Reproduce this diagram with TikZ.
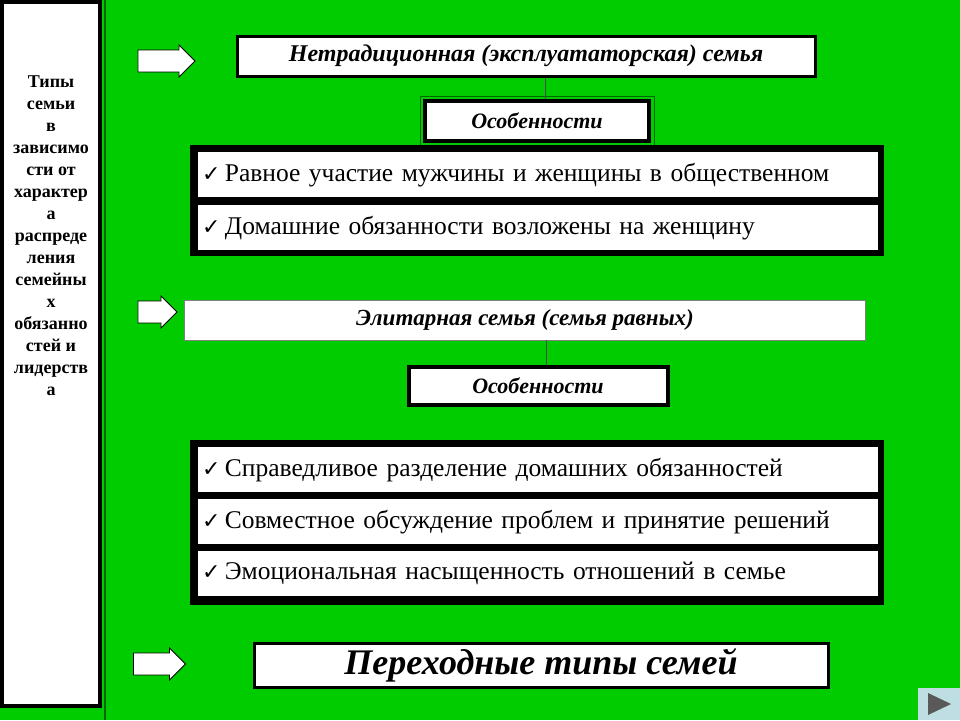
\documentclass[tikz,border=0pt]{standalone}
\usepackage{fontspec}
\setmainfont{Liberation Serif}
\newfontfamily\chkfont{DejaVu Sans}
\usetikzlibrary{shapes.arrows}
\definecolor{slidegreen}{RGB}{0,204,0}
\definecolor{navblue}{RGB}{190,222,228}
\tikzset{
  titlebox/.style={draw=black,line width=3pt,fill=white,inner sep=0pt,
    font=\fontsize{24}{26}\selectfont\bfseries\itshape},
  featbox/.style={draw=black,line width=4pt,fill=white,inner sep=0pt,
    font=\fontsize{22}{24}\selectfont\bfseries\itshape},
  rowbox/.style={fill=white,inner sep=0pt,anchor=north west,text width=672pt,
    minimum height=45pt,align=left,font=\fontsize{25.5}{27}\selectfont},
  group/.style={fill=black},
  blockarrow/.style={single arrow,draw=black,fill=white,line width=0.8pt,
    single arrow head extend=5pt,inner sep=10.5pt},
}
\newcommand{\chk}{{\chkfont\fontsize{22}{22}\selectfont ✓}}
\begin{document}
\begin{tikzpicture}[x=1pt,y=-1pt]
  \fill[slidegreen] (0,0) rectangle (960,720);
  \useasboundingbox (0,0) rectangle (960,720);

  % left panel
  \draw[black,line width=4pt,fill=white] (2,2) rectangle (100,706);
  \draw[green!40!black,line width=1.5pt] (105,0) -- (105,720);
  \node[align=center,font=\fontsize{18}{22}\selectfont\bfseries,anchor=north]
    (types) at (51,72) {Типы\\семьи\\в\\зависимо\\сти от\\характер\\а\\распреде\\ления\\семейны\\х\\обязанно\\стей и\\лидерств\\а};

  % arrows
  \node[blockarrow,minimum width=32pt,minimum height=57pt] (arrA) at (161,61) {};
  \node[blockarrow,minimum width=32pt,minimum height=39pt] (arrB) at (152,312) {};
  \node[blockarrow,minimum width=32pt,minimum height=52pt] (arrC) at (154,664) {};

  % first family type
  \node[titlebox,minimum width=578pt,minimum height=40pt] (nontrad) at (526,56)
    {Нетрадиционная (эксплуататорская) семья};
  \node[featbox,minimum width=224pt,minimum height=40pt] (featA) at (537,121) {Особенности};
  \draw[green!40!black] (featA.north west) ++(-3,-3) rectangle ([shift={(3,3)}]featA.south east);
  \draw[black!70] (nontrad.south -| 545,0) -- (featA.north -| 545,0);
  \fill[group] (190,145) rectangle (884,256);
  \node[rowbox,minimum width=680pt] (rowA1) at (198,152) {\chk\,Равное участие мужчины и женщины в общественном};
  \node[rowbox,minimum width=680pt] (rowA2) at (198,205) {\chk\,Домашние обязанности возложены на женщину};

  % second family type
  \node[draw=black!50,fill=white,inner sep=0pt,minimum width=681pt,minimum height=40pt,
    font=\fontsize{23}{25}\selectfont\bfseries\itshape] (elite) at (525,320)
    {Элитарная семья (семья равных)};
  \node[featbox,minimum width=259pt,minimum height=38pt] (featB) at (538,386) {Особенности};
  \draw[black!70] (elite.south -| 546,0) -- (featB.north -| 546,0);
  \fill[group] (190,440) rectangle (884,605);
  \node[rowbox,minimum width=680pt] (rowB1) at (198,447) {\chk\,Справедливое разделение домашних обязанностей};
  \node[rowbox,minimum width=680pt] (rowB2) at (198,499) {\chk\,Совместное обсуждение проблем и принятие решений};
  \node[rowbox,minimum width=680pt] (rowB3) at (198,551) {\chk\,Эмоциональная насыщенность отношений в семье};

  % transitional types
  \node[draw=black,line width=3pt,fill=white,inner sep=0pt,minimum width=574pt,minimum height=44pt,
    font=\fontsize{36}{38}\selectfont\bfseries\itshape] (trans) at (541,665) {Переходные типы семей};

  % navigation button
  \fill[navblue] (918,688) rectangle (960,720);
  \fill[gray!70!black] (928,693) -- (951,704) -- (928,715) -- cycle;
\end{tikzpicture}
\end{document}
